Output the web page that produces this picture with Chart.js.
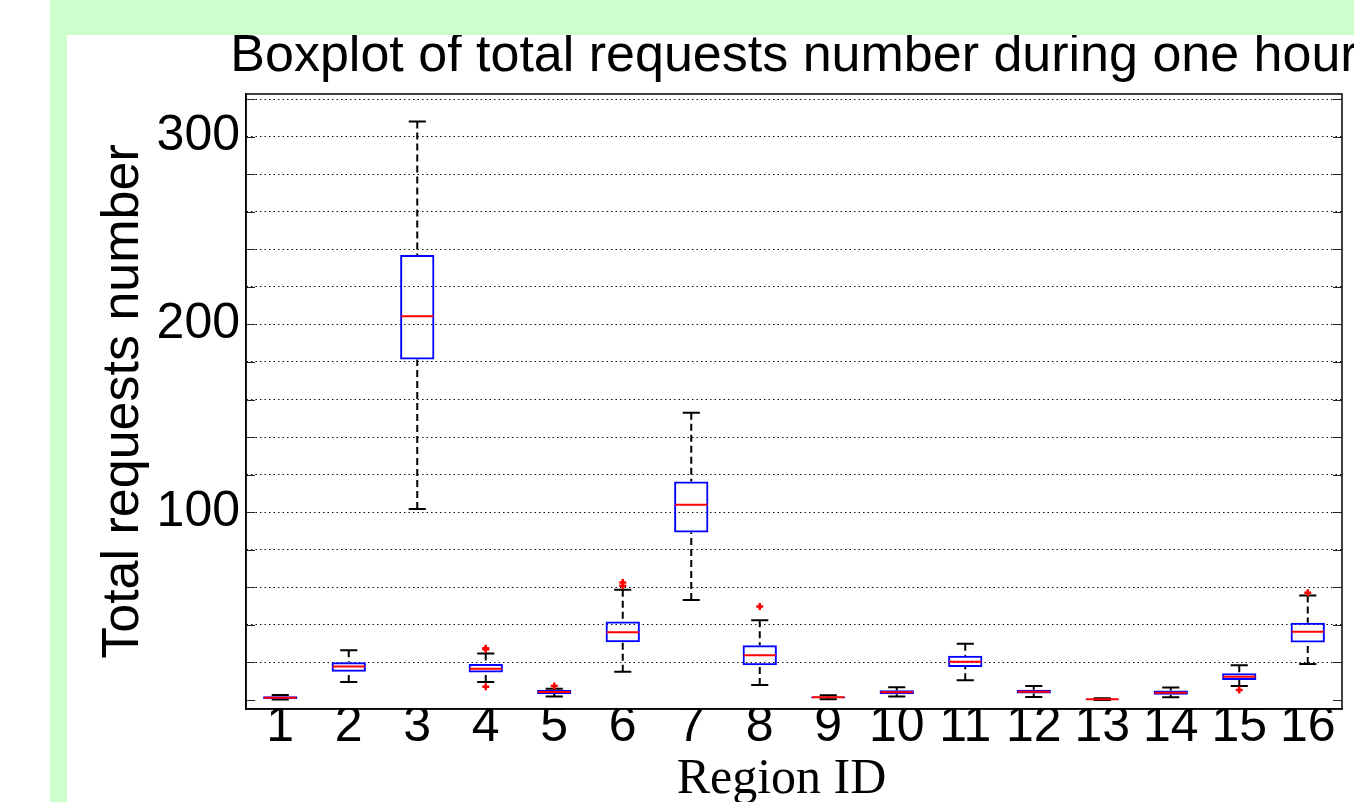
<!DOCTYPE html>
<html><head><meta charset="utf-8">
<script src="https://cdn.jsdelivr.net/npm/chart.js@4/dist/chart.umd.min.js"></script>
<style>
html,body{margin:0;padding:0;width:1354px;height:802px;overflow:hidden;background:#fff;}
#gTop{position:absolute;left:50px;top:0;width:1304px;height:35px;background:#ccffcc;}
#gLeft{position:absolute;left:50px;top:0;width:17px;height:802px;background:#ccffcc;}
#c{position:absolute;left:67px;top:35px;background:#fff;}
</style></head><body>
<div id="gTop"></div><div id="gLeft"></div>
<canvas id="c" width="1454" height="767"></canvas>
<script>
const categories = ['1','2','3','4','5','6','7','8','9','10','11','12','13','14','15','16'];
const lowerWhisker = [0.2, 9.6, 101.7, 9.6, 1.8, 15.1, 53.3, 8.0, 0.4, 1.8, 10.5, 1.6, 0.0, 1.4, 7.5, 19.2];
const q1 =           [0.5, 15.1, 181.3, 14.6, 3.2, 30.8, 89.2, 18.5, 1.0, 3.0, 17.6, 3.4, 0.1, 2.8, 10.7, 30.6];
const median =       [1.2, 17.8, 204.3, 16.7, 4.3, 36.1, 104.0, 23.8, 1.4, 4.1, 20.3, 4.4, 0.4, 3.9, 12.4, 36.3];
const q3 =           [2.0, 20.1, 237.0, 19.2, 5.3, 41.8, 116.4, 29.1, 1.8, 5.2, 23.5, 5.5, 0.7, 5.0, 14.2, 41.1];
const upperWhisker = [2.7, 26.5, 308.1, 24.7, 6.0, 58.7, 152.9, 42.5, 2.5, 6.8, 30.0, 7.5, 0.9, 6.6, 18.5, 55.6];
const outlierRegion = ['4', '4', '4', '5', '6', '6', '8', '15', '16'];
const outlierValue =  [27.0, 27.5, 7.1, 7.5, 60.8, 62.6, 49.8, 5.3, 57.1];
const yLabeledTicks = [100, 200, 300];

const boxParts = {
  id: 'boxParts',
  beforeDatasetsDraw(chart) {
    const {ctx, scales: {x, y}} = chart;
    const meta = chart.getDatasetMeta(0);
    ctx.save();
    ctx.strokeStyle = '#000';
    ctx.lineWidth = 2;
    categories.forEach((c, i) => {
      const cx = x.getPixelForValue(i);
      const half = meta.data[i].width / 4;
      ctx.setLineDash([7, 4]);
      ctx.beginPath();
      ctx.moveTo(cx, y.getPixelForValue(upperWhisker[i]));
      ctx.lineTo(cx, y.getPixelForValue(q3[i]));
      ctx.moveTo(cx, y.getPixelForValue(lowerWhisker[i]));
      ctx.lineTo(cx, y.getPixelForValue(q1[i]));
      ctx.stroke();
      ctx.setLineDash([]);
      ctx.beginPath();
      const yu = y.getPixelForValue(upperWhisker[i]);
      const yl = y.getPixelForValue(lowerWhisker[i]);
      ctx.moveTo(cx - half, yu); ctx.lineTo(cx + half, yu);
      ctx.moveTo(cx - half, yl); ctx.lineTo(cx + half, yl);
      ctx.stroke();
    });
    ctx.restore();
  },
  afterDatasetsDraw(chart) {
    const {ctx, scales: {x, y}} = chart;
    const meta = chart.getDatasetMeta(0);
    ctx.save();
    ctx.strokeStyle = '#ff0000';
    ctx.lineWidth = 2;
    categories.forEach((c, i) => {
      const cx = x.getPixelForValue(i);
      const half = meta.data[i].width / 2 - 1;
      const ym = y.getPixelForValue(median[i]);
      ctx.beginPath();
      ctx.moveTo(cx - half, ym); ctx.lineTo(cx + half, ym);
      ctx.stroke();
    });
    ctx.restore();
  },
  afterDraw(chart) {
    const {ctx, chartArea: a, scales: {y}} = chart;
    ctx.save();
    ctx.strokeStyle = '#000';
    ctx.lineWidth = 1.5;
    ctx.strokeRect(a.left, a.top, a.right - a.left, a.bottom - a.top);
    ctx.lineWidth = 1;
    ctx.strokeStyle = '#222';
    ctx.beginPath();
    y.ticks.forEach(t => {
      const py = Math.round(y.getPixelForValue(t.value)) + 0.5;
      ctx.moveTo(a.left, py); ctx.lineTo(a.left + 9, py);
      ctx.moveTo(a.right - 9, py); ctx.lineTo(a.right, py);
    });
    ctx.stroke();
    ctx.restore();
  }
};

const FONT = "'Liberation Sans', Arial, Helvetica, sans-serif";

new Chart(document.getElementById('c'), {
  type: 'bar',
  data: {
    labels: categories,
    datasets: [
      {
        type: 'bar',
        data: categories.map((c, i) => [q1[i], q3[i]]),
        backgroundColor: 'rgba(0,0,0,0)',
        borderColor: '#0000ff',
        borderWidth: 2,
        borderSkipped: false,
        categoryPercentage: 1,
        barPercentage: 0.5,
        grouped: false
      },
      {
        type: 'scatter',
        data: outlierRegion.map((r, i) => ({x: r, y: outlierValue[i]})),
        pointStyle: 'cross',
        radius: 3.5,
        borderColor: '#ff0000',
        backgroundColor: '#ff0000',
        borderWidth: 2.5,
        showLine: false
      }
    ]
  },
  options: {
    responsive: false,
    animation: false,
    devicePixelRatio: 1,
    layout: {padding: 0},
    plugins: {
      legend: {display: false},
      tooltip: {enabled: false},
      title: {
        display: true,
        text: 'Boxplot of total requests number during one hour',
        color: '#000',
        fullSize: true,
        font: {family: FONT, size: 52, weight: 'normal', lineHeight: 0.8},
        padding: {top: 1, bottom: 16.4}
      }
    },
    scales: {
      x: {
        type: 'category',
        offset: true,
        grid: {display: false, drawTicks: false},
        border: {display: true, color: '#000', width: 1.5},
        ticks: {color: '#000', autoSkip: false, maxRotation: 0, minRotation: 0, padding: 1,
          font: {family: FONT, size: 50, lineHeight: 0.7}},
        title: {display: true, text: 'Region ID  ', color: '#000',
          font: {family: "'Liberation Serif', 'Times New Roman', serif", size: 50, lineHeight: 0.87},
          padding: {top: 0, bottom: 0}},
        afterFit(s) { s.height = 93; }
      },
      y: {
        min: -4.8,
        max: 322.7,
        grid: {
          drawTicks: false,
          lineWidth: 1,
          color: ctx => (ctx.tick && ctx.tick.value === 0) ? 'rgba(0,0,0,0)' : '#111'
        },
        border: {display: true, color: '#000', width: 1.5, dash: [1.5, 3]},
        ticks: {
          stepSize: 20,
          includeBounds: false,
          autoSkip: false,
          padding: 6,
          color: '#000',
          font: {family: FONT, size: 50, lineHeight: 1},
          callback: v => yLabeledTicks.includes(v) ? String(v) : ''
        },
        title: {display: true, text: 'Total requests number', color: '#000',
          font: {family: FONT, size: 52, lineHeight: 1},
          padding: {top: 31, bottom: 0}},
        afterFit(s) { s.width = 179; }
      },
      ySpacer: {
        type: 'linear',
        position: 'right',
        display: true,
        grid: {display: false, drawTicks: false},
        border: {display: false},
        ticks: {display: false},
        afterFit(s) { s.width = 179; }
      }
    }
  },
  plugins: [boxParts]
});
</script>
</body></html>
